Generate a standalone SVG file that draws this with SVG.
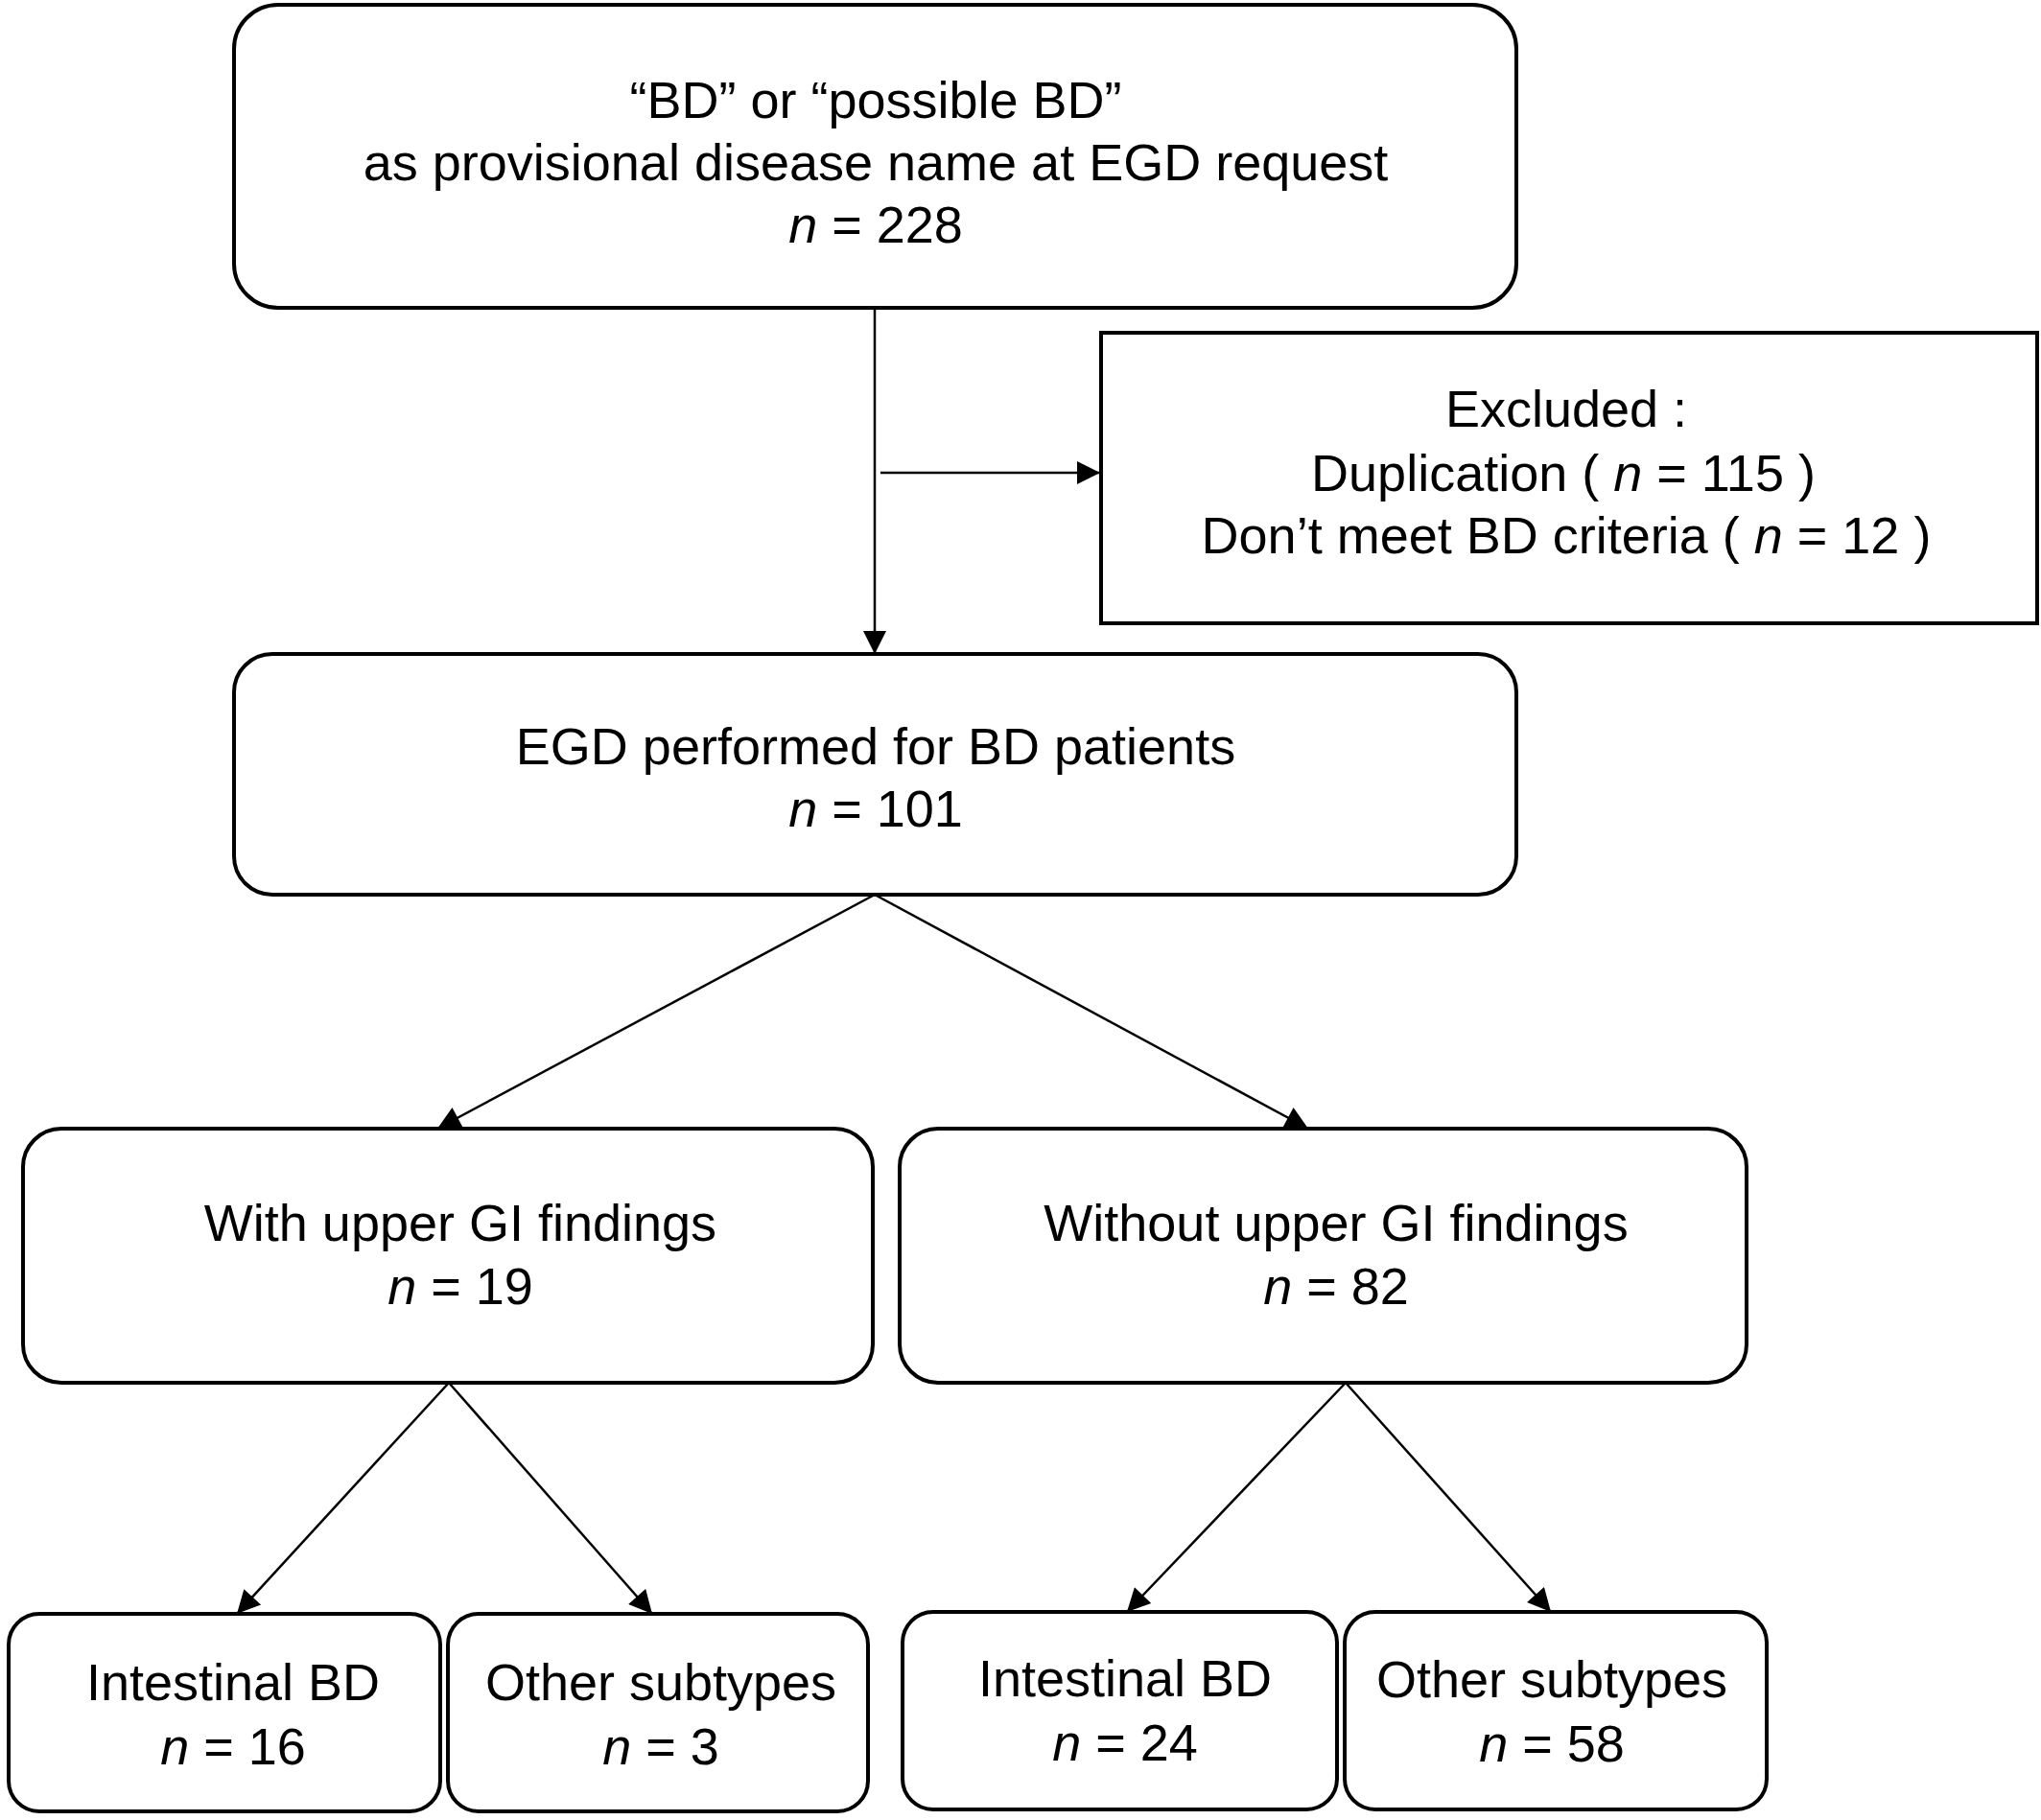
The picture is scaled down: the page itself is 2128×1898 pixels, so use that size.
<svg xmlns="http://www.w3.org/2000/svg" width="2128" height="1898" viewBox="0 0 2128 1898">
<style>
.box{fill:#fff;stroke:#000;stroke-width:4}
.t{font-family:"Liberation Sans",Arial,sans-serif;font-size:54px;fill:#000;text-anchor:middle}
.i{font-style:italic}
.c{stroke:#000;stroke-width:2.5;fill:none;marker-end:url(#ah)}
</style>
<defs>
<marker id="ah" viewBox="0 0 10 10" refX="10" refY="5" markerUnits="userSpaceOnUse" markerWidth="26" markerHeight="24" orient="auto">
<path d="M0,0 L10,5 L0,10 z" fill="#000"/>
</marker>
</defs>
<rect width="2128" height="1898" fill="#fff"/>
<g id="connectors">
<line class="c" x1="912" y1="321" x2="912" y2="682"/>
<line class="c" x1="918" y1="493" x2="1147" y2="493"/>
<line class="c" x1="912" y1="933" x2="456" y2="1177"/>
<line class="c" x1="912" y1="933" x2="1364" y2="1177"/>
<line class="c" x1="468" y1="1442" x2="247" y2="1683"/>
<line class="c" x1="468" y1="1442" x2="680" y2="1683"/>
<line class="c" x1="1403" y1="1442" x2="1175" y2="1681"/>
<line class="c" x1="1403" y1="1442" x2="1617" y2="1681"/>
</g>
<g id="n_start">
<rect class="box" x="244" y="5" width="1337" height="316" rx="46" ry="46"/>
<text class="t" x="913" y="123">“BD” or “possible BD”</text>
<text class="t" x="913" y="188">as provisional disease name at EGD request</text>
<text class="t" x="913" y="253"><tspan class="i">n</tspan> = 228</text>
</g>
<g id="n_excluded">
<rect class="box" x="1148" y="347" width="976" height="303"/>
<text class="t" x="1633" y="445">Excluded :</text>
<text class="t" x="1630" y="512">Duplication ( <tspan class="i">n</tspan> = 115 )</text>
<text class="t" x="1633" y="577">Don’t meet BD criteria ( <tspan class="i">n</tspan> = 12 )</text>
</g>
<g id="n_egd">
<rect class="box" x="244" y="682" width="1337" height="251" rx="40" ry="40"/>
<text class="t" x="913" y="797">EGD performed for BD patients</text>
<text class="t" x="913" y="862"><tspan class="i">n</tspan> = 101</text>
</g>
<g id="n_with">
<rect class="box" x="24" y="1177" width="886" height="265" rx="40" ry="40"/>
<text class="t" x="480" y="1294">With upper GI findings</text>
<text class="t" x="480" y="1360"><tspan class="i">n</tspan> = 19</text>
</g>
<g id="n_without">
<rect class="box" x="938" y="1177" width="883" height="265" rx="40" ry="40"/>
<text class="t" x="1393" y="1294">Without upper GI findings</text>
<text class="t" x="1393" y="1360"><tspan class="i">n</tspan> = 82</text>
</g>
<g id="n_with_intestinal">
<rect class="box" x="9" y="1683" width="450" height="206" rx="32" ry="32"/>
<text class="t" x="243" y="1773">Intestinal BD</text>
<text class="t" x="243" y="1840"><tspan class="i">n</tspan> = 16</text>
</g>
<g id="n_with_other">
<rect class="box" x="467" y="1683" width="438" height="206" rx="32" ry="32"/>
<text class="t" x="689" y="1773">Other subtypes</text>
<text class="t" x="689" y="1840"><tspan class="i">n</tspan> = 3</text>
</g>
<g id="n_without_intestinal">
<rect class="box" x="941" y="1681" width="453" height="206" rx="32" ry="32"/>
<text class="t" x="1173" y="1769">Intestinal BD</text>
<text class="t" x="1173" y="1836"><tspan class="i">n</tspan> = 24</text>
</g>
<g id="n_without_other">
<rect class="box" x="1402" y="1681" width="440" height="206" rx="32" ry="32"/>
<text class="t" x="1618" y="1770">Other subtypes</text>
<text class="t" x="1618" y="1837"><tspan class="i">n</tspan> = 58</text>
</g>
</svg>
